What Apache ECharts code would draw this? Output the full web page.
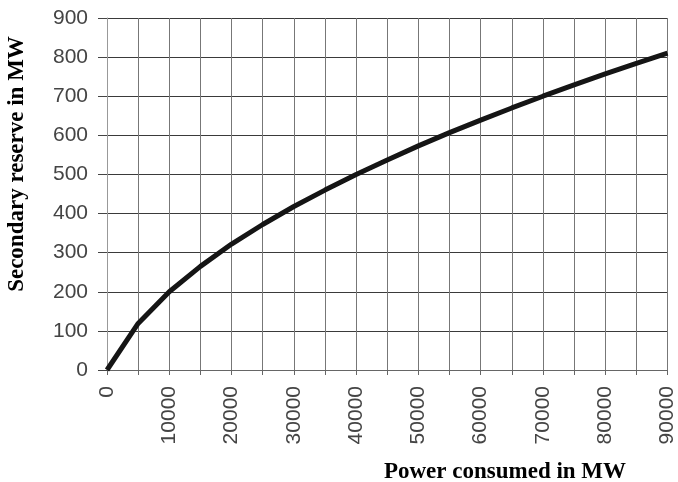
<!DOCTYPE html>
<html>
<head>
<meta charset="utf-8">
<script src="https://cdn.jsdelivr.net/npm/echarts@6/dist/echarts.min.js"></script>
<style>html,body{margin:0;padding:0;background:#fff}#c{width:678px;height:482px}</style>
</head>
<body>
<div id="c"></div>
<script>
var powerConsumed = [0, 5000, 10000, 15000, 20000, 25000, 30000, 35000, 40000, 45000, 50000, 55000, 60000, 65000, 70000, 75000, 80000, 85000, 90000];
var secondaryReserve = [0, 119, 200, 265, 322, 372, 418, 460, 500, 537, 573, 607, 639, 670, 700, 729, 757, 784, 810];
var xTitle = 'Power consumed in MW';
var yTitle = 'Secondary reserve in MW';

var chart = echarts.init(document.getElementById('c'));
var data = powerConsumed.map(function (x, i) { return [x, secondaryReserve[i]]; });
chart.setOption({
  animation: false,
  backgroundColor: '#fff',
  grid: { left: 107, right: 10, top: 18, bottom: 112 },
  xAxis: {
    type: 'value', min: 0, max: 90000, interval: 5000,
    axisLine: { show: true, lineStyle: { color: '#666', width: 1 } },
    axisTick: { show: true, length: 5, lineStyle: { color: '#666' } },
    splitLine: { show: true, lineStyle: { color: '#777', width: 1 } },
    axisLabel: {
      rotate: 90, margin: 16, color: '#444', fontSize: 21,
      fontFamily: 'Liberation Sans, Arial, sans-serif',
      formatter: function (v) { return v % 10000 === 0 ? String(v) : ''; }
    }
  },
  yAxis: {
    type: 'value', min: 0, max: 900, interval: 100,
    axisLine: { show: true, lineStyle: { color: '#999', width: 1 } },
    axisTick: { show: true, length: 9, lineStyle: { color: '#444' } },
    splitLine: { show: true, lineStyle: { color: '#3a3a3a', width: 1.2 } },
    axisLabel: {
      margin: 19, color: '#444', fontSize: 21,
      fontFamily: 'Liberation Sans, Arial, sans-serif'
    }
  },
  graphic: [
    {
      type: 'text', x: 17, y: 164, rotation: Math.PI / 2,
      style: {
        text: yTitle, fill: '#000', font: 'bold 23px "Liberation Serif", "Times New Roman", serif',
        align: 'center', verticalAlign: 'middle'
      }
    },
    {
      type: 'text', x: 505, y: 472,
      style: {
        text: xTitle, fill: '#000', font: 'bold 23px "Liberation Serif", "Times New Roman", serif',
        align: 'center', verticalAlign: 'middle'
      }
    }
  ],
  series: [{
    type: 'line', data: data, showSymbol: false, smooth: false,
    lineStyle: { color: '#151515', width: 5 }
  }]
});
</script>
</body>
</html>
